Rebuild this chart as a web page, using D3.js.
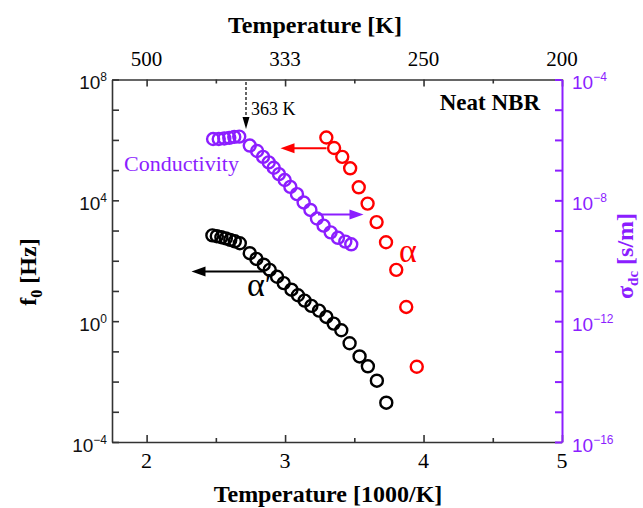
<!DOCTYPE html>
<html><head><meta charset="utf-8">
<script src="https://cdn.jsdelivr.net/npm/d3@7"></script>
<style>body{margin:0;background:#fff}</style>
</head><body><svg id="c" width="643" height="508"></svg>
<script>
// ---- data ----
const xMajor = [2, 3, 4, 5];
const xMinor = [2.5, 3.5, 4.5];
const topLabels = ["500", "333", "250", "200"];
const leftMajor = [1e-4, 1e0, 1e4, 1e8];
const leftExp = ["−4", "0", "4", "8"];
const leftMinor = [1e-3, 1e-2, 1e-1, 1e1, 1e2, 1e3, 1e5, 1e6, 1e7];
const rightMajor = [1e-16, 1e-12, 1e-8, 1e-4];
const rightExp = ["−16", "−12", "−8", "−4"];
const rightMinor = [1e-15, 1e-14, 1e-13, 1e-11, 1e-10, 1e-9, 1e-7, 1e-6, 1e-5];

// alpha' (black, left axis)
const alphaPrimeX = [2.475, 2.507, 2.540, 2.572, 2.604, 2.637, 2.673, 2.745, 2.793, 2.846, 2.889, 2.942, 2.990, 3.046, 3.093, 3.141, 3.190, 3.245, 3.298, 3.351, 3.406, 3.466, 3.538, 3.598, 3.663, 3.731];
const alphaPrimeF = [690, 650, 600, 550, 490, 440, 380, 178, 115, 74, 50, 29.5, 18.2, 11.0, 7.2, 4.8, 3.2, 2.24, 1.38, 0.83, 0.50, 0.186, 0.068, 0.032, 0.0107, 0.0020];
// alpha (red, left axis)
const alphaX = [3.298, 3.354, 3.413, 3.470, 3.532, 3.596, 3.661, 3.729, 3.803, 3.875, 3.951];
const alphaF = [1.2e6, 5.4e5, 2.75e5, 1.15e5, 2.7e4, 7.8e3, 1.9e3, 4.1e2, 50, 2.95, 0.031];
// conductivity (purple, right axis)
const condX = [2.480, 2.521, 2.561, 2.597, 2.633, 2.669, 2.745, 2.798, 2.841, 2.882, 2.918, 2.956, 2.997, 3.038, 3.086, 3.134, 3.183, 3.230, 3.278, 3.329, 3.382, 3.435, 3.478];
const condS = [1.07e-6, 1.07e-6, 1.12e-6, 1.17e-6, 1.26e-6, 1.29e-6, 6.5e-7, 4.3e-7, 2.75e-7, 1.8e-7, 1.2e-7, 7.4e-8, 4.7e-8, 2.8e-8, 1.6e-8, 8.5e-9, 4.8e-9, 2.5e-9, 1.45e-9, 8.7e-10, 5.75e-10, 4.3e-10, 3.5e-10];

// ---- layout ----
const L = 112, R = 562, T = 79.5, B = 442;
const PURPLE = "#8c1eff", GRAY = "#333", RED = "#ff0000";
const SERIF = "'Liberation Serif','Times New Roman',serif";
const SANS = "'Liberation Sans',Arial,sans-serif";

const svg = d3.select("#c");
const x = d3.scaleLinear().domain([1.75, 5]).range([L, R]);
const yL = d3.scaleLog().domain([1e-4, 1e8]).range([B, T]);
const yR = d3.scaleLog().domain([1e-16, 1e-4]).range([B, T]);

function styleAxis(g, color, w) {
  g.selectAll("path").attr("stroke", color).attr("stroke-width", w);
  g.selectAll("line").attr("stroke", color).attr("stroke-width", w);
  g.selectAll("text").remove();
}
// bottom
svg.append("g").attr("transform", `translate(0,${B})`)
  .call(d3.axisBottom(x).tickValues(xMajor).tickSizeInner(-7).tickSizeOuter(0).tickFormat(""))
  .call(g => styleAxis(g, GRAY, 1.6));
svg.append("g").attr("transform", `translate(0,${B})`)
  .call(d3.axisBottom(x).tickValues(xMinor).tickSizeInner(-4).tickSizeOuter(0).tickFormat(""))
  .call(g => { styleAxis(g, GRAY, 1.6); g.select("path").remove(); });
// top
svg.append("g").attr("transform", `translate(0,${T})`)
  .call(d3.axisTop(x).tickValues(xMajor).tickSizeInner(-7).tickSizeOuter(0).tickFormat(""))
  .call(g => styleAxis(g, GRAY, 1.6));
svg.append("g").attr("transform", `translate(0,${T})`)
  .call(d3.axisTop(x).tickValues(xMinor).tickSizeInner(-4).tickSizeOuter(0).tickFormat(""))
  .call(g => { styleAxis(g, GRAY, 1.6); g.select("path").remove(); });
// left
svg.append("g").attr("transform", `translate(${L},0)`)
  .call(d3.axisLeft(yL).tickValues(leftMajor.concat(leftMinor)).tickSizeInner(-7).tickSizeOuter(0).tickFormat(""))
  .call(g => styleAxis(g, GRAY, 1.6));
// right
svg.append("g").attr("transform", `translate(${R},0)`)
  .call(d3.axisRight(yR).tickValues(rightMajor.concat(rightMinor)).tickSizeInner(-7).tickSizeOuter(0).tickFormat(""))
  .call(g => styleAxis(g, PURPLE, 2));

// tick labels
xMajor.forEach((v) => {
  svg.append("text").attr("x", x(v)).attr("y", 468).attr("text-anchor", "middle")
    .attr("font-family", SERIF).attr("font-size", 22).text(String(v));
});
xMajor.forEach((v, i) => {
  svg.append("text").attr("x", x(v)).attr("y", 66).attr("text-anchor", "middle")
    .attr("font-family", SERIF).attr("font-size", 21).text(topLabels[i]);
});
leftMajor.forEach((v, i) => {
  const t = svg.append("text").attr("x", 107).attr("y", yL(v) + 9.5).attr("text-anchor", "end")
    .attr("font-family", SANS).attr("font-size", 19).attr("fill", "#111");
  t.append("tspan").text("10");
  t.append("tspan").attr("dy", -8).attr("font-size", 12).text(leftExp[i]);
});
rightMajor.forEach((v, i) => {
  const t = svg.append("text").attr("x", 572).attr("y", yR(v) + 9.5).attr("text-anchor", "start")
    .attr("font-family", SANS).attr("font-size", 19).attr("fill", PURPLE);
  t.append("tspan").text("10");
  t.append("tspan").attr("dy", -8).attr("font-size", 12).text(rightExp[i]);
});

// axis titles
svg.append("text").attr("x", 315).attr("y", 33).attr("text-anchor", "middle")
  .attr("font-family", SERIF).attr("font-weight", "bold").attr("font-size", 24).text("Temperature [K]");
svg.append("text").attr("x", 328).attr("y", 502).attr("text-anchor", "middle")
  .attr("font-family", SERIF).attr("font-weight", "bold").attr("font-size", 24).text("Temperature [1000/K]");
{
  const t = svg.append("text").attr("transform", "translate(36,272) rotate(-90)").attr("text-anchor", "middle")
    .attr("font-family", SERIF).attr("font-weight", "bold").attr("font-size", 24);
  t.append("tspan").text("f");
  t.append("tspan").attr("dy", 6).attr("font-size", 16).text("0");
  t.append("tspan").attr("dy", -6).text(" [Hz]");
}
{
  const t = svg.append("text").attr("transform", "translate(633,256) rotate(-90)").attr("text-anchor", "middle")
    .attr("font-family", SERIF).attr("font-weight", "bold").attr("font-size", 24).attr("fill", PURPLE);
  t.append("tspan").text("σ");
  t.append("tspan").attr("dy", 5).attr("font-size", 15).text("dc");
  t.append("tspan").attr("dy", -5).text(" [s/m]");
}

// markers
function circles(xs, ys, yScale, color) {
  svg.append("g").selectAll("circle").data(xs.map((v, i) => [v, ys[i]])).join("circle")
    .attr("cx", d => x(d[0])).attr("cy", d => yScale(d[1])).attr("r", 6)
    .attr("fill", "none").attr("stroke", color).attr("stroke-width", 2.4);
}
circles(alphaPrimeX, alphaPrimeF, yL, "#000");
circles(condX, condS, yR, PURPLE);
circles(alphaX, alphaF, yL, RED);

// arrows
function arrow(x1, y1, x2, y2, color) {
  svg.append("line").attr("x1", x1).attr("y1", y1).attr("x2", x2 + (x2 < x1 ? 10 : -10)).attr("y2", y2)
    .attr("stroke", color).attr("stroke-width", 2);
  const d = x2 < x1 ? 1 : -1;
  svg.append("path").attr("d", `M${x2},${y2} L${x2 + d * 14},${y2 - 5} L${x2 + d * 14},${y2 + 5} Z`).attr("fill", color);
}
arrow(326.5, 148.3, 280.5, 148.3, RED);
arrow(318, 214.5, 363.5, 214.5, PURPLE);
arrow(263, 271.5, 191.5, 271.5, "#000");

// 363 K marker
svg.append("line").attr("x1", 246).attr("y1", 82).attr("x2", 246).attr("y2", 119)
  .attr("stroke", "#000").attr("stroke-width", 1.2).attr("stroke-dasharray", "3,2");
svg.append("path").attr("d", "M246,129 L242.5,117 L249.5,117 Z").attr("fill", "#000");
svg.append("text").attr("x", 251).attr("y", 115).attr("font-family", SERIF).attr("font-size", 18).text("363 K");

// labels
svg.append("text").attr("x", 124).attr("y", 171).attr("font-family", SERIF).attr("font-size", 22)
  .attr("fill", PURPLE).text("Conductivity");
svg.append("text").attr("x", 540).attr("y", 110).attr("text-anchor", "end").attr("font-family", SERIF)
  .attr("font-weight", "bold").attr("font-size", 23).text("Neat NBR");
svg.append("text").attr("x", 399).attr("y", 262).attr("font-family", SERIF).attr("font-size", 34)
  .attr("fill", RED).text("α");
svg.append("text").attr("x", 247).attr("y", 296).attr("font-family", SERIF).attr("font-size", 34)
  .attr("fill", "#000").text("α′");
</script></body></html>
